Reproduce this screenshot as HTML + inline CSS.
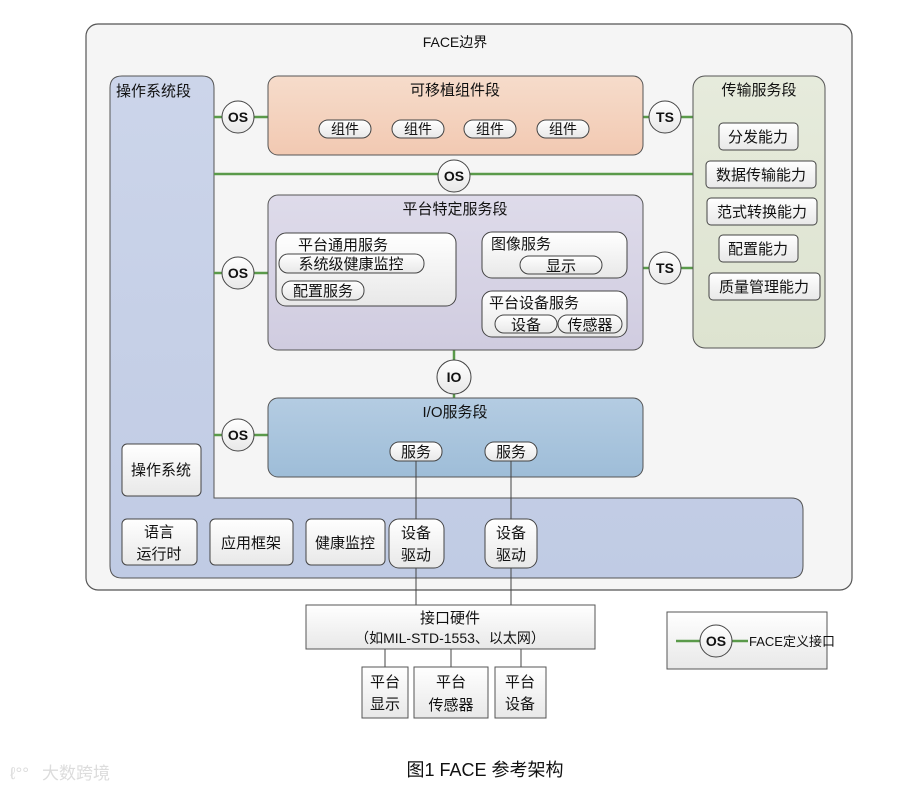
<!DOCTYPE html>
<html><head><meta charset="utf-8"><style>
html,body{margin:0;padding:0;background:#fff;width:924px;height:791px;overflow:hidden}
text{font-family:"Liberation Sans","Noto Sans CJK SC",sans-serif;fill:#111}
</style></head><body>
<svg width="924" height="791" viewBox="0 0 924 791" xmlns="http://www.w3.org/2000/svg">
<defs>
<linearGradient id="gOS" x1="0" y1="0" x2="0" y2="1"><stop offset="0" stop-color="#ccd5ea"/><stop offset="1" stop-color="#c0cbe4"/></linearGradient>
<linearGradient id="gPC" x1="0" y1="0" x2="0" y2="1"><stop offset="0" stop-color="#f6dccb"/><stop offset="1" stop-color="#f2c9b2"/></linearGradient>
<linearGradient id="gPS" x1="0" y1="0" x2="0" y2="1"><stop offset="0" stop-color="#dedbea"/><stop offset="1" stop-color="#d0cce0"/></linearGradient>
<linearGradient id="gIO" x1="0" y1="0" x2="0" y2="1"><stop offset="0" stop-color="#b4cce2"/><stop offset="1" stop-color="#9ebdd8"/></linearGradient>
<linearGradient id="gTS" x1="0" y1="0" x2="0" y2="1"><stop offset="0" stop-color="#e6ebdc"/><stop offset="1" stop-color="#dde3d0"/></linearGradient>
<linearGradient id="gW" x1="0" y1="0" x2="0" y2="1"><stop offset="0" stop-color="#ffffff"/><stop offset="1" stop-color="#e8e8e8"/></linearGradient>
</defs>
<rect x="86" y="24" width="766" height="566" rx="12" fill="#f5f5f5" stroke="#555" stroke-width="1.2"/>
<text x="455" y="47" font-size="14" text-anchor="middle">FACE边界</text>
<path d="M122,76 H202 Q214,76 214,88 V498 H791 Q803,498 803,510 V566 Q803,578 791,578 H122 Q110,578 110,566 V88 Q110,76 122,76 Z" fill="url(#gOS)" stroke="#555" stroke-width="1"/>
<text x="116" y="96" font-size="15" fill="#222">操作系统段</text>
<g stroke="#5a9a4a" stroke-width="2.5">
<line x1="214" y1="117" x2="268" y2="117"/>
<line x1="214" y1="174" x2="693" y2="174"/>
<line x1="214" y1="273" x2="268" y2="273"/>
<line x1="214" y1="435" x2="268" y2="435"/>
<line x1="643" y1="117" x2="693" y2="117"/>
<line x1="643" y1="268" x2="693" y2="268"/>
<line x1="454" y1="350" x2="454" y2="398"/>
</g>
<rect x="268" y="76" width="375" height="79" rx="10" fill="url(#gPC)" stroke="#555"/>
<text x="455" y="95" font-size="15" text-anchor="middle">可移植组件段</text>
<g font-size="14">
<rect x="319" y="120" width="52" height="18" rx="9" fill="url(#gW)" stroke="#444"/><text x="345" y="134" text-anchor="middle">组件</text>
<rect x="392" y="120" width="52" height="18" rx="9" fill="url(#gW)" stroke="#444"/><text x="418" y="134" text-anchor="middle">组件</text>
<rect x="464" y="120" width="52" height="18" rx="9" fill="url(#gW)" stroke="#444"/><text x="490" y="134" text-anchor="middle">组件</text>
<rect x="537" y="120" width="52" height="18" rx="9" fill="url(#gW)" stroke="#444"/><text x="563" y="134" text-anchor="middle">组件</text>
</g>
<rect x="693" y="76" width="132" height="272" rx="12" fill="url(#gTS)" stroke="#555"/>
<text x="759" y="95" font-size="15" text-anchor="middle">传输服务段</text>
<g font-size="15">
<rect x="719" y="123" width="79" height="27" rx="4" fill="url(#gW)" stroke="#444"/><text x="758" y="142" text-anchor="middle">分发能力</text>
<rect x="706" y="161" width="110" height="27" rx="4" fill="url(#gW)" stroke="#444"/><text x="761" y="180" text-anchor="middle">数据传输能力</text>
<rect x="707" y="198" width="110" height="27" rx="4" fill="url(#gW)" stroke="#444"/><text x="762" y="217" text-anchor="middle">范式转换能力</text>
<rect x="719" y="235" width="79" height="27" rx="4" fill="url(#gW)" stroke="#444"/><text x="758" y="254" text-anchor="middle">配置能力</text>
<rect x="709" y="273" width="111" height="27" rx="4" fill="url(#gW)" stroke="#444"/><text x="764" y="292" text-anchor="middle">质量管理能力</text>
</g>
<rect x="268" y="195" width="375" height="155" rx="10" fill="url(#gPS)" stroke="#555"/>
<text x="455" y="214" font-size="15" text-anchor="middle">平台特定服务段</text>
<rect x="276" y="233" width="180" height="73" rx="10" fill="url(#gW)" stroke="#444"/>
<text x="343" y="250" font-size="15" text-anchor="middle">平台通用服务</text>
<rect x="279" y="254" width="145" height="19" rx="9" fill="url(#gW)" stroke="#444"/><text x="351" y="269" font-size="15" text-anchor="middle">系统级健康监控</text>
<rect x="282" y="281" width="82" height="19" rx="9" fill="url(#gW)" stroke="#444"/><text x="323" y="296" font-size="15" text-anchor="middle">配置服务</text>
<rect x="482" y="232" width="145" height="46" rx="10" fill="url(#gW)" stroke="#444"/>
<text x="491" y="249" font-size="15">图像服务</text>
<rect x="520" y="256" width="82" height="18" rx="9" fill="url(#gW)" stroke="#444"/><text x="561" y="271" font-size="15" text-anchor="middle">显示</text>
<rect x="482" y="291" width="145" height="46" rx="10" fill="url(#gW)" stroke="#444"/>
<text x="489" y="308" font-size="15">平台设备服务</text>
<rect x="495" y="315" width="62" height="18" rx="9" fill="url(#gW)" stroke="#444"/><text x="526" y="330" font-size="15" text-anchor="middle">设备</text>
<rect x="558" y="315" width="64" height="18" rx="9" fill="url(#gW)" stroke="#444"/><text x="590" y="330" font-size="15" text-anchor="middle">传感器</text>
<rect x="268" y="398" width="375" height="79" rx="10" fill="url(#gIO)" stroke="#555"/>
<text x="455" y="417" font-size="15" text-anchor="middle">I/O服务段</text>
<g stroke="#444" stroke-width="1">
<line x1="416" y1="461" x2="416" y2="605"/>
<line x1="511" y1="461" x2="511" y2="605"/>
<line x1="385" y1="649" x2="385" y2="667"/>
<line x1="451" y1="649" x2="451" y2="667"/>
<line x1="521" y1="649" x2="521" y2="667"/>
</g>
<rect x="390" y="442" width="52" height="19" rx="9" fill="url(#gW)" stroke="#444"/><text x="416" y="457" font-size="15" text-anchor="middle">服务</text>
<rect x="485" y="442" width="52" height="19" rx="9" fill="url(#gW)" stroke="#444"/><text x="511" y="457" font-size="15" text-anchor="middle">服务</text>
<g font-size="14" font-weight="bold">
<circle cx="238" cy="117" r="16" fill="url(#gW)" stroke="#444"/><text x="238" y="122" text-anchor="middle">OS</text>
<circle cx="454" cy="176" r="16" fill="url(#gW)" stroke="#444"/><text x="454" y="181" text-anchor="middle">OS</text>
<circle cx="238" cy="273" r="16" fill="url(#gW)" stroke="#444"/><text x="238" y="278" text-anchor="middle">OS</text>
<circle cx="238" cy="435" r="16" fill="url(#gW)" stroke="#444"/><text x="238" y="440" text-anchor="middle">OS</text>
<circle cx="454" cy="377" r="17" fill="url(#gW)" stroke="#444"/><text x="454" y="382" text-anchor="middle">IO</text>
<circle cx="665" cy="117" r="16" fill="url(#gW)" stroke="#444"/><text x="665" y="122" text-anchor="middle">TS</text>
<circle cx="665" cy="268" r="16" fill="url(#gW)" stroke="#444"/><text x="665" y="273" text-anchor="middle">TS</text>
</g>
<g font-size="15">
<rect x="122" y="444" width="79" height="52" rx="5" fill="url(#gW)" stroke="#444"/><text x="161" y="475" text-anchor="middle">操作系统</text>
<rect x="122" y="519" width="75" height="46" rx="5" fill="url(#gW)" stroke="#444"/><text x="159" y="537" text-anchor="middle">语言</text><text x="159" y="559" text-anchor="middle">运行时</text>
<rect x="210" y="519" width="83" height="46" rx="5" fill="url(#gW)" stroke="#444"/><text x="251" y="548" text-anchor="middle">应用框架</text>
<rect x="306" y="519" width="79" height="46" rx="5" fill="url(#gW)" stroke="#444"/><text x="345" y="548" text-anchor="middle">健康监控</text>
<rect x="389" y="519" width="55" height="49" rx="10" fill="url(#gW)" stroke="#444"/><text x="416" y="538" text-anchor="middle">设备</text><text x="416" y="560" text-anchor="middle">驱动</text>
<rect x="485" y="519" width="52" height="49" rx="10" fill="url(#gW)" stroke="#444"/><text x="511" y="538" text-anchor="middle">设备</text><text x="511" y="560" text-anchor="middle">驱动</text>
</g>
<rect x="306" y="605" width="289" height="44" fill="url(#gW)" stroke="#555"/>
<text x="450" y="623" font-size="15" text-anchor="middle">接口硬件</text>
<text x="450" y="643" font-size="14" text-anchor="middle">（如MIL-STD-1553、以太网）</text>
<g font-size="15">
<rect x="362" y="667" width="46" height="51" fill="url(#gW)" stroke="#555"/><text x="385" y="687" text-anchor="middle">平台</text><text x="385" y="709" text-anchor="middle">显示</text>
<rect x="414" y="667" width="74" height="51" fill="url(#gW)" stroke="#555"/><text x="451" y="687" text-anchor="middle">平台</text><text x="451" y="710" text-anchor="middle">传感器</text>
<rect x="495" y="667" width="51" height="51" fill="url(#gW)" stroke="#555"/><text x="520" y="687" text-anchor="middle">平台</text><text x="520" y="709" text-anchor="middle">设备</text>
</g>
<rect x="667" y="612" width="160" height="57" fill="url(#gW)" stroke="#555"/>
<g stroke="#5a9a4a" stroke-width="2.5"><line x1="676" y1="641" x2="700" y2="641"/><line x1="732" y1="641" x2="748" y2="641"/></g>
<circle cx="716" cy="641" r="16" fill="url(#gW)" stroke="#444"/><text x="716" y="646" font-size="14" font-weight="bold" text-anchor="middle">OS</text>
<text x="749" y="646" font-size="13">FACE定义接口</text>
<text x="485" y="776" font-size="18" text-anchor="middle">图1 FACE 参考架构</text>
<text x="42" y="779" font-size="17" style="fill:#dcdcdc">大数跨境</text>
<text x="10" y="779" font-size="17" style="fill:#dcdcdc">ℓ°°</text>
</svg>
</body></html>
